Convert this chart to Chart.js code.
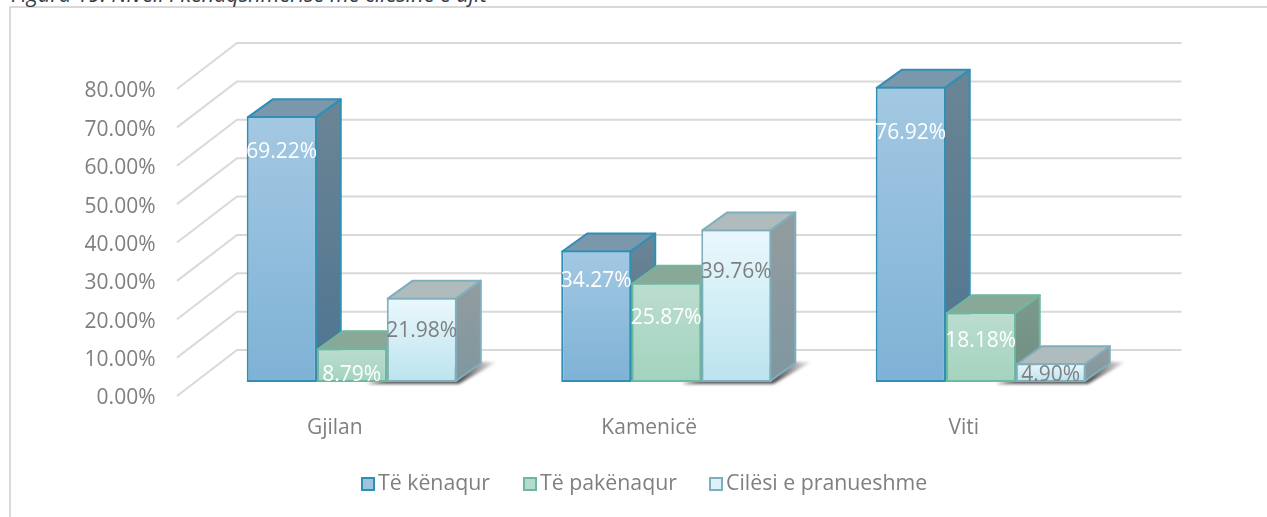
<!DOCTYPE html>
<html>
<head>
<meta charset="utf-8">
<script src="https://cdn.jsdelivr.net/npm/chart.js@4"></script>
<style>
html,body{margin:0;padding:0;background:#fff;overflow:hidden}
#wrap{position:relative;width:1267px;height:517px;overflow:hidden}
#frame{position:absolute;left:9px;top:6px;width:1300px;height:600px;border:2px solid #D9D9D9;box-sizing:border-box}
#title{position:absolute;left:11px;top:-21px;font:italic 21.6px "Open Sans",sans-serif;color:#333a4a;white-space:nowrap}
canvas{position:absolute;left:0;top:0}
</style>
</head>
<body>
<div id="wrap">
<div id="frame"></div>
<div id="title">Figura 19. Niveli i kënaqshmërisë me cilësinë e ujit</div>
<canvas id="c" width="1267" height="517"></canvas>
</div>
<script>
const categories = ["Gjilan", "Kamenicë", "Viti"];
const satisfied = [69.22, 34.27, 76.92];
const dissatisfied = [8.79, 25.87, 18.18];
const acceptable = [21.98, 39.76, 4.90];
const seriesNames = ["Të kënaqur", "Të pakënaqur", "Cilësi e pranueshme"];
const yTicks = [0, 10, 20, 30, 40, 50, 60, 70, 80];

const FONT = '"Open Sans", sans-serif';
const GREY = '#7F7F7F';
const DX = 25, DY = 18;            // depth of a bar
const WALL_FRONT = 14;             // depth of the plot box in front of the bars
const looks = [
  {top:'#A3C8E2', bottom:'#7EB2D6', border:'#2F8FB5', lid:'#7A97AB', sideTop:'#6B8595', sideBottom:'#4E7590', key:'#9DC3DF', text:'#FFFFFF'},
  {top:'#BBDDCF', bottom:'#A3D3BF', border:'#6DB8A0', lid:'#8AA898', sideTop:'#7C9A8C', sideBottom:'#6E8F82', key:'#B5DBCB', text:'#FFFFFF'},
  {top:'#EAF8FD', bottom:'#BCE3EE', border:'#7FAEBC', lid:'#AFBBBD', sideTop:'#939C9E', sideBottom:'#7F97A1', key:'#DDF1F8', text:GREY}
];

function barGradient(c, look){
  const chart = c.chart;
  if(!chart.chartArea || c.raw === undefined) return look.key;
  const y = chart.scales.y;
  const g = chart.ctx.createLinearGradient(0, y.getPixelForValue(c.raw), 0, y.getPixelForValue(0));
  g.addColorStop(0, look.top); g.addColorStop(1, look.bottom);
  return g;
}

const extrude = {
  id:'extrude',
  beforeDatasetsDraw(chart){
    const {ctx, scales:{x, y}} = chart;
    ctx.save();
    ctx.strokeStyle = '#D9D9D9'; ctx.lineWidth = 2;
    yTicks.forEach(t=>{
      const py = y.getPixelForValue(t);
      const fx = x.left - 17.5, fy = py + WALL_FRONT;
      const bx = fx + 60, by = fy - 46;
      ctx.beginPath(); ctx.moveTo(fx, fy); ctx.lineTo(bx, by); ctx.lineTo(x.right + 43.5, by); ctx.stroke();
    });
    const last = chart.getDatasetMeta(2).data, first = chart.getDatasetMeta(0).data;
    last.forEach((b, i)=>{
      const r = b.x + b.width/2, l = first[i].x - first[i].width/2, base = y.getPixelForValue(0);
      const g = ctx.createLinearGradient(r + 5, 0, r + 40, 0);
      g.addColorStop(0, 'rgba(30,30,30,.75)'); g.addColorStop(1, 'rgba(30,30,30,.05)');
      ctx.save();
      ctx.filter = 'blur(1.5px)';
      ctx.fillStyle = g;
      ctx.beginPath();
      ctx.moveTo(l + 120, base + 2); ctx.lineTo(r + 2, base + 2);
      ctx.lineTo(r + 40, base - 20); ctx.lineTo(r + 20, base - 20); ctx.closePath();
      ctx.fill();
      ctx.restore();
    });
    ctx.restore();
  },
  // the library paints datasets last-to-first; a 3D row needs first-to-last
  beforeDatasetDraw(){ return false; },
  afterDatasetsDraw(chart, args, opts){
    const {ctx, scales:{y}} = chart;
    const base = y.getPixelForValue(0);
    chart.data.datasets.forEach((ds, di)=>{
      const look = looks[di], meta = chart.getDatasetMeta(di);
      ctx.save();
      ctx.lineWidth = 2; ctx.strokeStyle = look.border; ctx.lineJoin = 'round';
      meta.data.forEach(b=>{
        const l = b.x - b.width/2 + 1, r = b.x + b.width/2 - 1, t = b.y + 1;
        const g = ctx.createLinearGradient(0, t - DY, 0, base);
        g.addColorStop(0, look.sideTop); g.addColorStop(1, look.sideBottom);
        ctx.fillStyle = g;
        ctx.beginPath();
        ctx.moveTo(r, t); ctx.lineTo(r + DX, t - DY); ctx.lineTo(r + DX, base - DY - 1); ctx.lineTo(r, base - 1); ctx.closePath();
        ctx.fill(); ctx.stroke();
        ctx.fillStyle = look.lid;
        ctx.beginPath();
        ctx.moveTo(l, t); ctx.lineTo(l + DX, t - DY); ctx.lineTo(r + DX, t - DY); ctx.lineTo(r, t); ctx.closePath();
        ctx.fill(); ctx.stroke();
      });
      ctx.restore();
      meta.controller.draw();
    });
    ctx.save();
    ctx.font = '21px ' + FONT;
    ctx.textAlign = 'center'; ctx.textBaseline = 'middle';
    chart.data.datasets.forEach((ds, di)=>{
      ctx.fillStyle = looks[di].text;
      chart.getDatasetMeta(di).data.forEach((b, i)=>{
        ctx.fillText(ds.data[i].toFixed(2) + '%', b.x, b.y + opts.drop[di][i]);
      });
    });
    // legend: swatch sits tight against its text
    ctx.textAlign = 'left';
    ctx.font = '21.3px ' + FONT;
    seriesNames.forEach((n, i)=>{
      const lx = opts.legendX[i], ly = opts.legendY;
      ctx.fillStyle = looks[i].key; ctx.strokeStyle = looks[i].border; ctx.lineWidth = 2;
      ctx.fillRect(lx, ly - 6, 12, 12); ctx.strokeRect(lx, ly - 6, 12, 12);
      ctx.fillStyle = GREY;
      ctx.fillText(n, lx + 16, ly);
    });
    ctx.restore();
  }
};

new Chart(document.getElementById('c'), {
  type:'bar',
  data:{
    labels:categories,
    datasets:[satisfied, dissatisfied, acceptable].map((data, i)=>({
      label:seriesNames[i],
      data,
      backgroundColor:c=>barGradient(c, looks[i]),
      borderColor:looks[i].border,
      borderWidth:2,
      borderSkipped:false,
      categoryPercentage:0.668,
      barPercentage:1
    }))
  },
  plugins:[extrude],
  options:{
    responsive:false,
    animation:false,
    events:[],
    layout:{padding:{left:0, right:129, top:75, bottom:57}},
    scales:{
      x:{
        grid:{display:false}, border:{display:false},
        afterFit(s){ s.height = 78; },
        ticks:{color:GREY, font:{family:FONT, size:21}, labelOffset:-17, padding:25}
      },
      y:{
        min:0, max:80,
        grid:{display:false}, border:{display:false},
        afterFit(s){ s.width = 194.5; },
        afterBuildTicks(s){ s.ticks = yTicks.map(v=>({value:v})); },
        ticks:{color:GREY, font:{family:FONT, size:21}, labelOffset:16.5, padding:31,
          callback:v=>v.toFixed(2)+'%'}
      }
    },
    plugins:{
      title:{display:false},
      tooltip:{enabled:false},
      legend:{display:false},
      extrude:{
        drop:[[36,31,46],[27,35,29],[33,43,12]],
        legendX:[362,524,710],
        legendY:484
      }
    }
  }
});
</script>
</body>
</html>
